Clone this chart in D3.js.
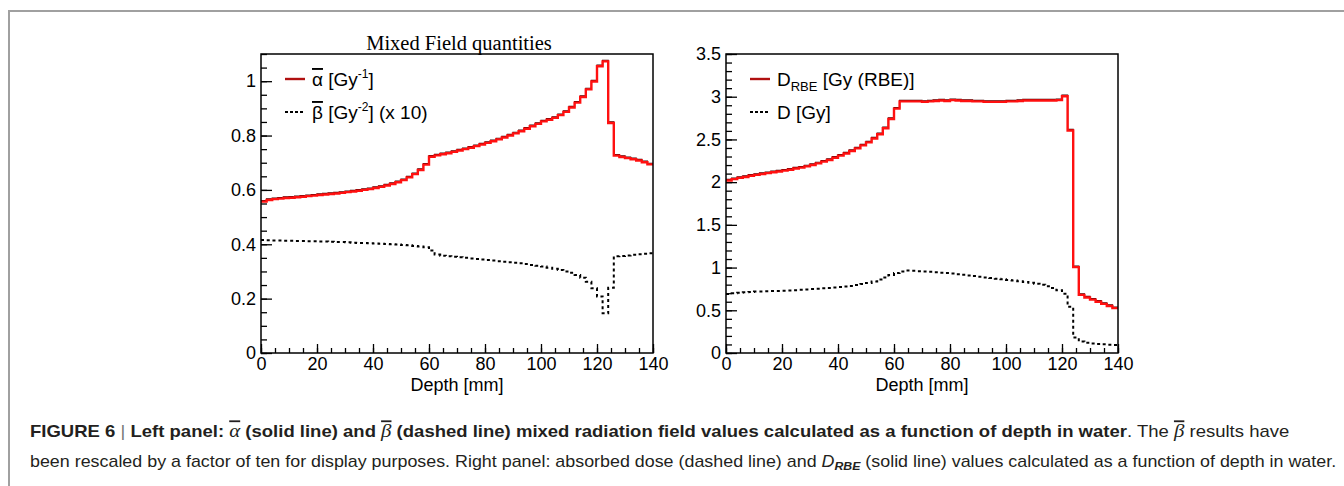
<!DOCTYPE html>
<html><head><meta charset="utf-8">
<script src="https://cdn.jsdelivr.net/npm/d3@7"></script>
<style>body{margin:0;background:#fff}svg{display:block}</style>
</head><body>
<svg id="c" width="1344" height="486"></svg>
<script>
// ---- data (bin start depth in mm, 2 mm bins) ----
const depthBins = [0,2,4,6,8,10,12,14,16,18,20,22,24,26,28,30,32,34,36,38,40,42,44,46,48,50,52,54,56,58,60,62,64,66,68,70,72,74,76,78,80,82,84,86,88,90,92,94,96,98,100,102,104,106,108,110,112,114,116,118,120,122,124,126,128,130,132,134,136,138];
const depthMax = 140;
const alphaMean = [0.557,0.563,0.566,0.568,0.570,0.571,0.573,0.575,0.577,0.579,0.581,0.583,0.585,0.587,0.589,0.592,0.594,0.597,0.600,0.603,0.607,0.611,0.616,0.622,0.628,0.636,0.646,0.658,0.673,0.693,0.722,0.727,0.731,0.735,0.740,0.745,0.750,0.755,0.761,0.767,0.773,0.779,0.786,0.793,0.800,0.808,0.816,0.825,0.834,0.843,0.852,0.858,0.865,0.875,0.887,0.903,0.921,0.942,0.970,0.999,1.055,1.073,0.846,0.726,0.721,0.717,0.713,0.708,0.702,0.694];
const betaMeanX10 = [0.416,0.415,0.414,0.414,0.413,0.413,0.412,0.412,0.411,0.411,0.410,0.410,0.409,0.408,0.408,0.407,0.406,0.405,0.405,0.404,0.403,0.402,0.401,0.400,0.399,0.397,0.396,0.394,0.392,0.389,0.377,0.362,0.358,0.356,0.354,0.352,0.350,0.348,0.346,0.344,0.342,0.340,0.338,0.336,0.334,0.332,0.330,0.327,0.324,0.321,0.318,0.314,0.310,0.305,0.300,0.295,0.287,0.277,0.262,0.238,0.208,0.146,0.240,0.356,0.357,0.359,0.361,0.363,0.365,0.367];
const doseRBE = [2.02,2.035,2.05,2.06,2.075,2.085,2.095,2.105,2.115,2.125,2.135,2.145,2.16,2.17,2.185,2.20,2.22,2.24,2.26,2.285,2.31,2.335,2.365,2.395,2.43,2.465,2.51,2.56,2.63,2.74,2.86,2.945,2.945,2.945,2.945,2.94,2.945,2.95,2.955,2.95,2.96,2.955,2.95,2.95,2.945,2.945,2.94,2.94,2.94,2.94,2.945,2.945,2.95,2.955,2.955,2.955,2.955,2.955,2.955,2.96,3.005,2.605,1.005,0.68,0.65,0.625,0.60,0.575,0.55,0.525];
const doseAbs = [0.69,0.70,0.705,0.71,0.715,0.72,0.72,0.722,0.725,0.727,0.73,0.732,0.736,0.74,0.744,0.748,0.752,0.757,0.762,0.767,0.772,0.778,0.785,0.795,0.807,0.82,0.838,0.86,0.885,0.912,0.935,0.955,0.965,0.962,0.958,0.954,0.95,0.945,0.94,0.935,0.93,0.922,0.915,0.908,0.90,0.893,0.885,0.877,0.87,0.862,0.855,0.848,0.84,0.832,0.822,0.81,0.798,0.782,0.76,0.735,0.695,0.54,0.18,0.135,0.12,0.112,0.106,0.101,0.097,0.093];

const xTicks = [0,20,40,60,80,100,120,140];
const xMinorStep = 5;
const leftYTicks = [0,0.2,0.4,0.6,0.8,1];
const leftYMinorStep = 0.05;
const leftYMax = 1.1;
const rightYTicks = [0,0.5,1,1.5,2,2.5,3,3.5];
const rightYMinorStep = 0.1;
const rightYMax = 3.5;

const svg = d3.select("#c");
const SANS = "'Liberation Sans', Arial, sans-serif";
const SERIF = "'Liberation Serif', 'Times New Roman', serif";

// outer figure frame
svg.append("path").attr("d","M9,486V11H1344").attr("fill","none").attr("stroke","#a0a0a0").attr("stroke-width",2);

function stepPts(vals){
  const p = depthBins.map((d,i)=>[d, vals[i]]);
  p.push([depthMax, vals[vals.length-1]]);
  return p;
}

function panel(o){
  const x = d3.scaleLinear().domain([0, depthMax]).range([o.left, o.right]);
  const y = d3.scaleLinear().domain([0, o.yMax]).range([353, 54]);
  const g = svg.append("g");
  const line = d3.line().x(d=>x(d[0])).y(d=>y(d[1])).curve(d3.curveStepAfter);

  // dotted series
  g.append("path").attr("d", line(stepPts(o.dotted))).attr("fill","none")
    .attr("stroke","#000").attr("stroke-width",2).attr("stroke-dasharray","3,3");
  // solid series: thin dark histogram under a red one
  g.append("path").attr("d", line(stepPts(o.solid))).attr("fill","none")
    .attr("stroke","#3a0000").attr("stroke-width",1.2).attr("transform","translate(0,-1.1)");
  g.append("path").attr("d", line(stepPts(o.solid))).attr("fill","none")
    .attr("stroke","#ff1010").attr("stroke-width",2.4);

  // minor ticks
  const yMinor = d3.range(0, o.yMax + 1e-9, o.yMinor);
  const xMinor = d3.range(0, depthMax + 1e-9, xMinorStep);
  g.append("g").attr("transform",`translate(${o.left},0)`)
    .call(d3.axisLeft(y).tickValues(yMinor).tickSize(-6).tickFormat(""))
    .call(s=>s.select(".domain").remove());
  g.append("g").attr("transform",`translate(0,353)`)
    .call(d3.axisBottom(x).tickValues(xMinor).tickSize(-5).tickFormat(""))
    .call(s=>s.select(".domain").remove());
  // major ticks + labels
  const ya = g.append("g").attr("transform",`translate(${o.left},0)`)
    .call(d3.axisLeft(y).tickValues(o.yTicks).tickSize(-11).tickPadding(5).tickFormat(d3.format("~g")));
  ya.select(".domain").remove();
  const xa = g.append("g").attr("transform",`translate(0,353)`)
    .call(d3.axisBottom(x).tickValues(xTicks).tickSize(-9).tickPadding(4).tickFormat(d3.format("d")));
  xa.select(".domain").remove();
  g.selectAll(".tick line").attr("stroke","#000").attr("stroke-width",1.3);
  g.selectAll(".tick text").attr("font-family",SANS).attr("font-size",18).attr("fill","#000");
  xa.selectAll(".tick text").attr("dy","0.72em");

  // frame
  g.append("rect").attr("x",o.left).attr("y",54).attr("width",o.right-o.left).attr("height",299)
    .attr("fill","none").attr("stroke","#000").attr("stroke-width",1.5);

  // axis title
  g.append("text").attr("x",(o.left+o.right)/2).attr("y",391).attr("text-anchor","middle")
    .attr("font-family",SANS).attr("font-size",18).text("Depth [mm]");

  // legend
  const lx = o.left + 24;
  const rows = [79, 112];
  g.append("line").attr("x1",lx).attr("x2",lx+20).attr("y1",rows[0]).attr("y2",rows[0])
    .attr("stroke","#b01010").attr("stroke-width",2.4);
  g.append("line").attr("x1",lx).attr("x2",lx+20).attr("y1",rows[1]).attr("y2",rows[1])
    .attr("stroke","#000").attr("stroke-width",2).attr("stroke-dasharray","3,2");
  o.legend(g, lx+27, rows);
  return g;
}

const gl = panel({left:261, right:653, yMax:leftYMax, yTicks:leftYTicks, yMinor:leftYMinorStep,
  solid:alphaMean, dotted:betaMeanX10,
  legend:(g,tx,rows)=>{
    const t1 = g.append("text").attr("x",tx).attr("y",rows[0]+7).attr("font-family",SANS).attr("font-size",19);
    t1.append("tspan").style("text-decoration","overline").text("α");
    t1.append("tspan").text(" [Gy");
    t1.append("tspan").attr("font-size",12).attr("dy",-8).text("-1");
    t1.append("tspan").attr("dy",8).text("]");
    const t2 = g.append("text").attr("x",tx).attr("y",rows[1]+7).attr("font-family",SANS).attr("font-size",19);
    t2.append("tspan").style("text-decoration","overline").text("β");
    t2.append("tspan").text(" [Gy");
    t2.append("tspan").attr("font-size",12).attr("dy",-8).text("-2");
    t2.append("tspan").attr("dy",8).text("] (x 10)");
  }});
gl.append("text").attr("x",459).attr("y",50).attr("text-anchor","middle")
  .attr("font-family",SERIF).attr("font-size",20.5).text("Mixed Field quantities");

panel({left:726, right:1118, yMax:rightYMax, yTicks:rightYTicks, yMinor:rightYMinorStep,
  solid:doseRBE, dotted:doseAbs,
  legend:(g,tx,rows)=>{
    const t1 = g.append("text").attr("x",tx).attr("y",rows[0]+7).attr("font-family",SANS).attr("font-size",19);
    t1.append("tspan").text("D");
    t1.append("tspan").attr("font-size",13).attr("dy",5).text("RBE");
    t1.append("tspan").attr("dy",-5).text(" [Gy (RBE)]");
    g.append("text").attr("x",tx).attr("y",rows[1]+7).attr("font-family",SANS).attr("font-size",19).text("D [Gy]");
  }});

// ---- caption ----
const cap = svg.append("g").attr("font-family",SANS).attr("font-size",16).attr("fill","#231f20").style("white-space","pre");
const c1 = cap.append("text").attr("y",437);
c1.append("tspan").attr("font-weight","bold").text("FIGURE 6 ");
c1.append("tspan").attr("fill","#777").text("| ");
c1.append("tspan").attr("font-weight","bold").text("Left panel: ");
c1.append("tspan").attr("font-family",SERIF).attr("font-style","italic").attr("font-size",18).style("text-decoration","overline").text("α");
c1.append("tspan").attr("font-weight","bold").text("  (solid line) and ");
c1.append("tspan").attr("font-family",SERIF).attr("font-style","italic").attr("font-size",18).style("text-decoration","overline").text("β");
c1.append("tspan").attr("font-weight","bold").text("  (dashed line) mixed radiation field values calculated as a function of depth in water");
c1.append("tspan").text(". The  ");
c1.append("tspan").attr("font-family",SERIF).attr("font-style","italic").attr("font-size",18).style("text-decoration","overline").text("β");
c1.append("tspan").text("   results have");
const c2 = cap.append("text").attr("y",467);
c2.append("tspan").text("been rescaled by a factor of ten for display purposes. Right panel: absorbed dose (dashed line) and ");
c2.append("tspan").attr("font-style","italic").text("D");
c2.append("tspan").attr("font-style","italic").attr("font-weight","bold").attr("font-size",11).attr("dy",3).text("RBE");
c2.append("tspan").attr("dy",-3).text(" (solid line) values calculated as a function of depth in water.");
[[c1,1260],[c2,1307]].forEach(([t,w])=>{
  const len = t.node().getComputedTextLength();
  const s = len>0 ? w/len : 1;
  t.attr("transform",`translate(30,0) scale(${s},1)`);
});
</script>
</body></html>
